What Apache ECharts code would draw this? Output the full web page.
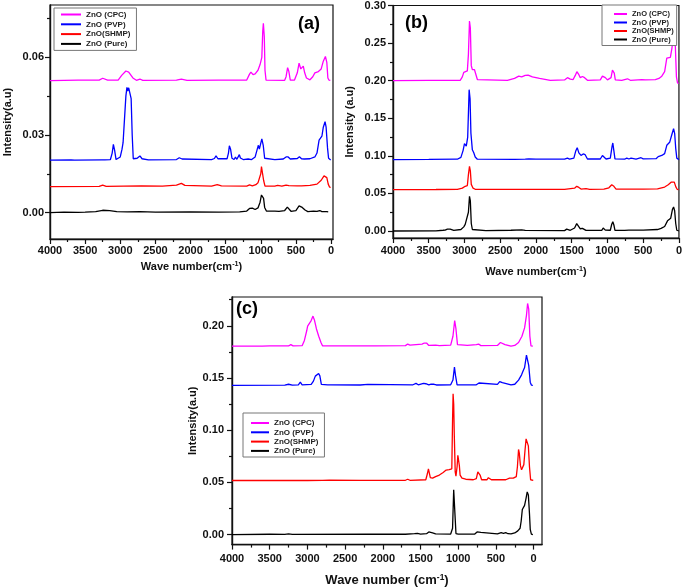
<!DOCTYPE html>
<html>
<head>
<meta charset="utf-8">
<script src="https://cdn.jsdelivr.net/npm/echarts@6/dist/echarts.min.js"></script>
<style>html,body{margin:0;padding:0;background:#fff}#c{width:685px;height:588px}</style>
</head>
<body>
<div id="c"></div>
<script>
// ---------- data ----------
const names = ['ZnO (CPC)', 'ZnO (PVP)', 'ZnO(SHMP)', 'ZnO (Pure)'];
const colors = ['#ff00ff', '#0000ff', '#ff0000', '#000000'];
const xMajor = [0,500,1000,1500,2000,2500,3000,3500,4000];
const xMinor = [250,750,1250,1750,2250,2750,3250,3750];
const yMajorA = [0, 0.03, 0.06];
const yMinorA = [0.015, 0.045, 0.075];
const yMajorB = [0, 0.05, 0.10, 0.15, 0.20, 0.25, 0.30];
const yMinorB = [0.025, 0.075, 0.125, 0.175, 0.225, 0.275];
const yMajorC = [0, 0.05, 0.10, 0.15, 0.20];
const yMinorC = [0.025, 0.075, 0.125, 0.175, 0.225];

// Panel (a)
const aCPC = [[4000,0.051],[3600,0.0512],[3300,0.0512],[3250,0.0519],[3180,0.0512],[3030,0.0512],[2980,0.053],[2920,0.0547],[2880,0.0543],[2820,0.052],[2770,0.0511],[2720,0.0516],[2680,0.0511],[2200,0.0512],[2130,0.0516],[2050,0.0511],[1600,0.0512],[1200,0.0512],[1160,0.0535],[1140,0.0543],[1110,0.0533],[1080,0.0536],[1040,0.055],[1010,0.0572],[985,0.060],[972,0.070],[963,0.0731],[950,0.068],[940,0.055],[925,0.0512],[660,0.0511],[640,0.0525],[618,0.056],[600,0.0545],[580,0.0512],[520,0.0512],[480,0.054],[455,0.0577],[430,0.0555],[410,0.0555],[395,0.0566],[375,0.054],[350,0.052],[300,0.0513],[260,0.0525],[230,0.054],[180,0.0545],[140,0.0555],[110,0.0585],[80,0.0603],[60,0.058],[45,0.052],[30,0.0512],[10,0.0511]];
const aPVP = [[4000,0.0203],[3700,0.0204],[3680,0.0207],[3650,0.0203],[3260,0.0204],[3240,0.0208],[3220,0.0204],[3140,0.0205],[3115,0.023],[3098,0.0264],[3080,0.024],[3060,0.0205],[3040,0.0206],[3000,0.0215],[2975,0.0245],[2960,0.027],[2940,0.036],[2920,0.045],[2905,0.0484],[2895,0.047],[2880,0.0482],[2860,0.0481],[2845,0.044],[2830,0.030],[2815,0.0208],[2790,0.0205],[2760,0.021],[2720,0.0219],[2690,0.0208],[2600,0.0204],[2200,0.0205],[2160,0.0212],[2120,0.0207],[1700,0.0205],[1660,0.0209],[1637,0.0219],[1610,0.0208],[1480,0.0208],[1460,0.023],[1447,0.0258],[1430,0.0245],[1410,0.021],[1380,0.0205],[1360,0.0214],[1340,0.0206],[1320,0.0212],[1305,0.0224],[1290,0.0211],[1250,0.0205],[1180,0.0207],[1160,0.0212],[1130,0.0205],[1080,0.0215],[1050,0.0245],[1034,0.026],[1020,0.0245],[1000,0.025],[985,0.0285],[977,0.0291],[965,0.026],[945,0.021],[920,0.0205],[800,0.0205],[680,0.0207],[640,0.0215],[610,0.0215],[580,0.0207],[480,0.0209],[450,0.0216],[420,0.0208],[400,0.0213],[380,0.0207],[300,0.0208],[230,0.0215],[200,0.023],[170,0.028],[150,0.0285],[130,0.0295],[110,0.033],[85,0.0351],[70,0.033],[50,0.025],[35,0.021],[24,0.0204],[5,0.0203]];
const aSHMP = [[4000,0.010],[3300,0.0101],[3250,0.0106],[3200,0.0101],[2700,0.0103],[2400,0.0102],[2200,0.0106],[2130,0.0113],[2080,0.0105],[1700,0.0102],[1620,0.0108],[1594,0.0113],[1560,0.0103],[1200,0.0102],[1160,0.0107],[1120,0.0103],[1070,0.0108],[1040,0.0115],[1020,0.011],[1000,0.015],[990,0.0178],[975,0.0172],[960,0.0125],[940,0.0102],[800,0.0102],[760,0.0105],[700,0.0102],[640,0.0106],[622,0.0111],[600,0.0104],[480,0.0103],[455,0.0107],[420,0.0103],[300,0.0105],[200,0.011],[140,0.0125],[100,0.0142],[80,0.0148],[60,0.0135],[40,0.011],[20,0.0098],[5,0.0097]];
const aPure = [[4000,0],[3800,0.0002],[3600,0.0001],[3500,0.0002],[3350,0.0004],[3250,0.0009],[3150,0.0008],[3050,0.0004],[2900,0.0003],[2720,0.0004],[2500,0.0002],[2000,0.0003],[1600,0.0002],[1300,0.0003],[1200,0.0006],[1160,0.0016],[1120,0.0017],[1080,0.0012],[1040,0.0018],[1010,0.004],[990,0.0068],[977,0.0072],[960,0.0055],[945,0.002],[920,0.0006],[800,0.0006],[780,0.001],[740,0.0005],[660,0.0008],[622,0.0021],[600,0.0016],[570,0.0005],[500,0.0008],[455,0.0026],[430,0.0021],[410,0.002],[394,0.0021],[370,0.001],[330,0.0004],[250,0.0006],[200,0.0005],[160,0.0008],[130,0.0004],[60,0.0004],[40,0.0003]];

// Panel (b)
const bCPC = [[4000,0.200],[3500,0.2005],[3200,0.2003],[3060,0.2005],[3030,0.205],[3010,0.211],[2990,0.213],[2960,0.213],[2945,0.235],[2930,0.2794],[2918,0.27],[2905,0.22],[2890,0.2146],[2860,0.2146],[2840,0.212],[2820,0.2015],[2800,0.2005],[2400,0.2005],[2300,0.203],[2240,0.206],[2200,0.205],[2150,0.207],[2110,0.2075],[2050,0.205],[1950,0.203],[1800,0.2005],[1600,0.201],[1560,0.204],[1543,0.206],[1520,0.202],[1480,0.2015],[1450,0.207],[1428,0.212],[1400,0.208],[1380,0.204],[1350,0.2055],[1320,0.204],[1280,0.2005],[1100,0.201],[1070,0.206],[1047,0.2084],[1030,0.204],[1000,0.201],[950,0.204],[930,0.214],[918,0.216],[905,0.21],[890,0.201],[800,0.2005],[720,0.2025],[680,0.2005],[520,0.2015],[500,0.203],[470,0.201],[330,0.2015],[280,0.203],[240,0.206],[200,0.212],[170,0.23],[150,0.2306],[120,0.231],[100,0.242],[80,0.256],[65,0.2617],[50,0.245],[35,0.205],[20,0.197],[5,0.1965]];
const bPVP = [[4000,0.095],[3500,0.0952],[3100,0.0955],[3050,0.098],[3020,0.107],[3000,0.1162],[2975,0.113],[2955,0.125],[2935,0.188],[2922,0.176],[2910,0.13],[2890,0.108],[2870,0.104],[2850,0.0985],[2820,0.0955],[2300,0.0952],[2150,0.0957],[2100,0.096],[2000,0.0955],[1600,0.0955],[1560,0.097],[1530,0.0957],[1470,0.097],[1445,0.106],[1423,0.1109],[1400,0.104],[1370,0.1005],[1340,0.1025],[1312,0.1015],[1280,0.0958],[1100,0.0958],[1070,0.1005],[1050,0.099],[1020,0.0958],[960,0.097],[935,0.113],[925,0.1171],[912,0.108],[895,0.096],[760,0.0955],[730,0.097],[700,0.0958],[670,0.097],[600,0.0957],[530,0.0975],[500,0.096],[320,0.0962],[290,0.099],[269,0.0985],[240,0.1005],[200,0.103],[170,0.114],[153,0.1162],[130,0.118],[100,0.128],[75,0.1361],[60,0.13],[45,0.11],[30,0.097],[15,0.095],[0,0.095]];
const bSHMP = [[4000,0.055],[3400,0.0552],[3100,0.0555],[3030,0.057],[2990,0.0595],[2960,0.0605],[2945,0.075],[2930,0.086],[2918,0.08],[2905,0.062],[2880,0.057],[2850,0.0555],[2300,0.0555],[1600,0.0555],[1460,0.057],[1430,0.0594],[1400,0.058],[1370,0.0558],[1300,0.0565],[1250,0.0555],[1050,0.0558],[980,0.0575],[940,0.0615],[925,0.063],[910,0.0595],[880,0.0558],[500,0.0557],[300,0.056],[200,0.0585],[150,0.0615],[110,0.065],[85,0.0674],[65,0.065],[45,0.059],[25,0.0555],[5,0.055]];
const bPure = [[4000,0],[3400,0.0002],[3300,0.001],[3270,0.0013],[3240,0.0025],[3200,0.0025],[3150,0.0009],[3050,0.002],[3010,0.0055],[2990,0.0089],[2970,0.0085],[2945,0.025],[2930,0.0461],[2918,0.04],[2905,0.01],[2890,0.002],[2870,0.0007],[2700,0.0005],[2350,0.001],[2200,0.0015],[2150,0.0008],[1600,0.0005],[1570,0.0025],[1543,0.003],[1520,0.001],[1460,0.004],[1430,0.0098],[1410,0.008],[1380,0.003],[1350,0.0035],[1330,0.0035],[1300,0.0008],[1080,0.0008],[1060,0.004],[1047,0.0042],[1030,0.0012],[960,0.001],[940,0.009],[925,0.0124],[910,0.008],[895,0.001],[760,0.0008],[700,0.0012],[500,0.0012],[300,0.002],[250,0.0035],[200,0.006],[160,0.0135],[140,0.0145],[115,0.017],[90,0.029],[75,0.032],[60,0.027],[45,0.01],[30,0.001],[15,0],[0,0]];

// Panel (c)
const cCPC = [[4000,0.1805],[3600,0.1805],[3500,0.1807],[3250,0.1807],[3220,0.182],[3190,0.1808],[3070,0.181],[3040,0.186],[3010,0.195],[2997,0.1997],[2975,0.201],[2950,0.205],[2926,0.2093],[2905,0.205],[2880,0.197],[2850,0.19],[2820,0.184],[2800,0.1808],[2100,0.1808],[1700,0.181],[1670,0.1825],[1640,0.1815],[1560,0.182],[1540,0.1812],[1480,0.1825],[1450,0.1835],[1420,0.1835],[1390,0.1812],[1300,0.1815],[1250,0.181],[1100,0.1815],[1070,0.19],[1047,0.2051],[1030,0.197],[1010,0.182],[990,0.181],[920,0.1815],[880,0.1812],[760,0.182],[730,0.1825],[700,0.181],[480,0.1812],[440,0.184],[420,0.184],[380,0.182],[300,0.1805],[250,0.1812],[200,0.184],[155,0.190],[120,0.198],[95,0.210],[80,0.2214],[65,0.216],[50,0.19],[35,0.1808],[10,0.1805]];
const cPVP = [[4000,0.143],[3300,0.1432],[3250,0.144],[3200,0.1432],[3120,0.1435],[3094,0.146],[3070,0.1435],[2950,0.1438],[2920,0.147],[2895,0.1518],[2870,0.1535],[2851,0.1543],[2835,0.152],[2815,0.1438],[2790,0.1432],[2730,0.1435],[2710,0.145],[2690,0.1435],[2300,0.1433],[2200,0.1438],[1600,0.1435],[1560,0.1448],[1530,0.1435],[1460,0.1448],[1430,0.1445],[1390,0.1435],[1360,0.1442],[1320,0.144],[1290,0.1433],[1100,0.1435],[1070,0.148],[1050,0.1604],[1035,0.152],[1015,0.1435],[760,0.1435],[725,0.1452],[700,0.1438],[480,0.1438],[450,0.1465],[433,0.1483],[415,0.1455],[390,0.1438],[300,0.1435],[250,0.144],[200,0.148],[160,0.153],[140,0.1566],[120,0.16],[95,0.1719],[80,0.171],[65,0.162],[45,0.146],[30,0.1432],[10,0.143]];
const cSHMP = [[4000,0.0518],[3000,0.0518],[2800,0.052],[2710,0.0522],[2300,0.052],[1700,0.052],[1670,0.053],[1640,0.052],[1430,0.0525],[1410,0.058],[1395,0.0629],[1380,0.061],[1370,0.0545],[1340,0.054],[1300,0.0555],[1250,0.057],[1200,0.0595],[1160,0.0618],[1120,0.0623],[1100,0.062],[1085,0.063],[1075,0.11],[1068,0.1348],[1060,0.125],[1052,0.095],[1040,0.06],[1030,0.056],[1015,0.065],[1005,0.076],[995,0.0755],[985,0.066],[975,0.057],[950,0.054],[930,0.0555],[900,0.053],[800,0.0525],[760,0.0535],[740,0.06],[725,0.0607],[710,0.057],[690,0.0525],[620,0.0525],[600,0.0545],[580,0.0535],[560,0.0525],[400,0.0525],[390,0.0535],[370,0.0525],[320,0.054],[300,0.0555],[270,0.054],[230,0.0555],[215,0.065],[200,0.0815],[190,0.078],[175,0.066],[160,0.062],[145,0.061],[130,0.067],[115,0.08],[100,0.0917],[85,0.0915],[70,0.085],[55,0.065],[40,0.0525],[20,0.052],[5,0.052]];
const cPure = [[4000,0],[3500,0.0003],[3300,0.0002],[3250,0.0006],[3200,0.0002],[2200,0.0003],[1700,0.0003],[1580,0.0008],[1560,0.002],[1540,0.0012],[1500,0.0005],[1420,0.0008],[1390,0.0025],[1370,0.002],[1340,0.0015],[1320,0.0018],[1300,0.0006],[1100,0.0005],[1075,0.006],[1060,0.043],[1050,0.0425],[1040,0.015],[1030,0.001],[1000,0.0004],[780,0.0005],[750,0.0025],[725,0.0038],[700,0.002],[680,0.0005],[480,0.0006],[430,0.0018],[400,0.0012],[370,0.0018],[340,0.0008],[300,0.0006],[250,0.0015],[210,0.0035],[180,0.006],[165,0.013],[150,0.024],[135,0.0245],[120,0.028],[100,0.035],[85,0.0409],[70,0.038],[55,0.02],[45,0.005],[30,0.0005],[10,0]];

// ---------- chart ----------
const FONT = "'Liberation Sans', Arial, sans-serif";
const chart = echarts.init(document.getElementById('c'), null, {renderer: 'canvas'});

const panels = [
  {grid: {left: 50, top: 5, width: 283, height: 234}, xmin: -28, ymin: -0.0102, ymax: 0.0802,
   yMajor: yMajorA, yMinor: yMinorA, xName: 'Wave number(cm', yName: 'Intensity(a.u)',
   xGap: 22, yGap: 37, xLblMargin: 6, yLblMargin: 6, xNameSize: 11, series: [aCPC, aPVP, aSHMP, aPure]},
  {grid: {left: 393, top: 5, width: 288, height: 233}, xmin: 0, ymin: -0.0093, ymax: 0.30,
   yMajor: yMajorB, yMinor: yMinorB, xName: 'Wave number(cm', yName: 'Intensity (a.u)',
   xGap: 28, yGap: 38, xLblMargin: 7, yLblMargin: 7, xNameSize: 11, series: [bCPC, bPVP, bSHMP, bPure]},
  {grid: {left: 232, top: 297, width: 310, height: 248}, xmin: -111, ymin: -0.0096, ymax: 0.2276,
   yMajor: yMajorC, yMinor: yMinorC, xName: 'Wave number (cm', yName: 'Intensity(a.u)',
   xGap: 29, yGap: 33, xLblMargin: 9, yLblMargin: 8, xNameSize: 13, series: [cCPC, cPVP, cSHMP, cPure]}
];

const grids = [], xAxes = [], yAxes = [], series = [];
panels.forEach((p, i) => {
  grids.push(Object.assign({show: true, borderColor: '#111', borderWidth: 1.2, containLabel: false}, p.grid));
  const xBase = {type: 'value', gridIndex: i, inverse: true, min: p.xmin, max: 4000, position: 'bottom',
    splitLine: {show: false}, axisLine: {onZero: false, lineStyle: {color: '#111', width: 1.4}}};
  xAxes.push(Object.assign({}, xBase, {
    axisTick: {show: true, inside: false, length: 5, customValues: xMajor, lineStyle: {color: '#111', width: 1.2}},
    axisLabel: {customValues: xMajor, margin: p.xLblMargin, color: '#111', fontSize: 11, fontWeight: 'bold', fontFamily: FONT,
      formatter: v => String(Math.round(v))},
    name: '{t|' + p.xName + '}{s|-1}{t|)}', nameLocation: 'middle', nameGap: p.xGap,
    nameTextStyle: {rich: {
      t: {fontSize: p.xNameSize, fontWeight: 'bold', fontFamily: FONT, color: '#111'},
      s: {fontSize: p.xNameSize * 0.65, fontWeight: 'bold', fontFamily: FONT, color: '#111', verticalAlign: 'top', padding: [0, 0, p.xNameSize * 0.45, 0]}
    }}
  }));
  xAxes.push(Object.assign({}, xBase, {
    axisLine: {show: false, onZero: false},
    axisTick: {show: true, inside: false, length: 3, customValues: xMinor, lineStyle: {color: '#111', width: 1.2}},
    axisLabel: {show: false}
  }));
  const yBase = {type: 'value', gridIndex: i, min: p.ymin, max: p.ymax, position: 'left',
    splitLine: {show: false}, axisLine: {onZero: false, lineStyle: {color: '#111', width: 1.4}}};
  yAxes.push(Object.assign({}, yBase, {
    axisTick: {show: true, inside: false, length: 5, customValues: p.yMajor, lineStyle: {color: '#111', width: 1.2}},
    axisLabel: {customValues: p.yMajor, margin: p.yLblMargin, color: '#111', fontSize: 11, fontWeight: 'bold', fontFamily: FONT,
      formatter: v => v.toFixed(2)},
    name: p.yName, nameLocation: 'middle', nameGap: p.yGap, nameRotate: 90,
    nameTextStyle: {fontSize: 11, fontWeight: 'bold', fontFamily: FONT, color: '#111'}
  }));
  yAxes.push(Object.assign({}, yBase, {
    axisLine: {show: false, onZero: false},
    axisTick: {show: true, inside: false, length: 3, customValues: p.yMinor, lineStyle: {color: '#111', width: 1.2}},
    axisLabel: {show: false}
  }));
  p.series.forEach((d, k) => {
    series.push({type: 'line', name: names[k], xAxisIndex: i * 2, yAxisIndex: i * 2, data: d,
      showSymbol: false, symbol: 'none', smooth: false, animation: false,
      lineStyle: {color: colors[k], width: 1.3}, itemStyle: {color: colors[k]}});
  });
});

const legendBase = {orient: 'vertical', icon: 'rect', itemHeight: 2, selectedMode: false,
  borderColor: '#777', borderWidth: 1, backgroundColor: '#fff', data: names};
const legends = [
  Object.assign({}, legendBase, {left: 54, top: 8, itemWidth: 20, itemGap: 0.8, itemTextGap: 4, padding: [2, 6, 2, 7],
    textStyle: {fontSize: 8, fontWeight: 'bold', fontFamily: FONT, color: '#222', lineHeight: 9}}),
  Object.assign({}, legendBase, {left: 602, top: 5, itemWidth: 13, itemGap: 0.5, itemTextGap: 3, padding: [5, 3, 2, 12],
    textStyle: {fontSize: 7.5, fontWeight: 'bold', fontFamily: FONT, color: '#222', lineHeight: 8}}),
  Object.assign({}, legendBase, {left: 243, top: 413, itemWidth: 18, itemGap: 0.3, itemTextGap: 5, padding: [5.5, 6, 1.6, 8],
    textStyle: {fontSize: 8, fontWeight: 'bold', fontFamily: FONT, color: '#222', lineHeight: 9}})
];

const titleStyle = {fontSize: 18, fontWeight: 'bold', fontFamily: FONT, color: '#000'};
const titles = [
  {text: '(a)', left: 298, top: 15, padding: 0, textStyle: titleStyle},
  {text: '(b)', left: 405, top: 14, padding: 0, textStyle: titleStyle},
  {text: '(c)', left: 236, top: 300, padding: 0, textStyle: titleStyle}
];

chart.setOption({
  backgroundColor: '#fff',
  animation: false,
  title: titles,
  legend: legends,
  grid: grids,
  xAxis: xAxes,
  yAxis: yAxes,
  series: series
});
</script>
</body>
</html>
